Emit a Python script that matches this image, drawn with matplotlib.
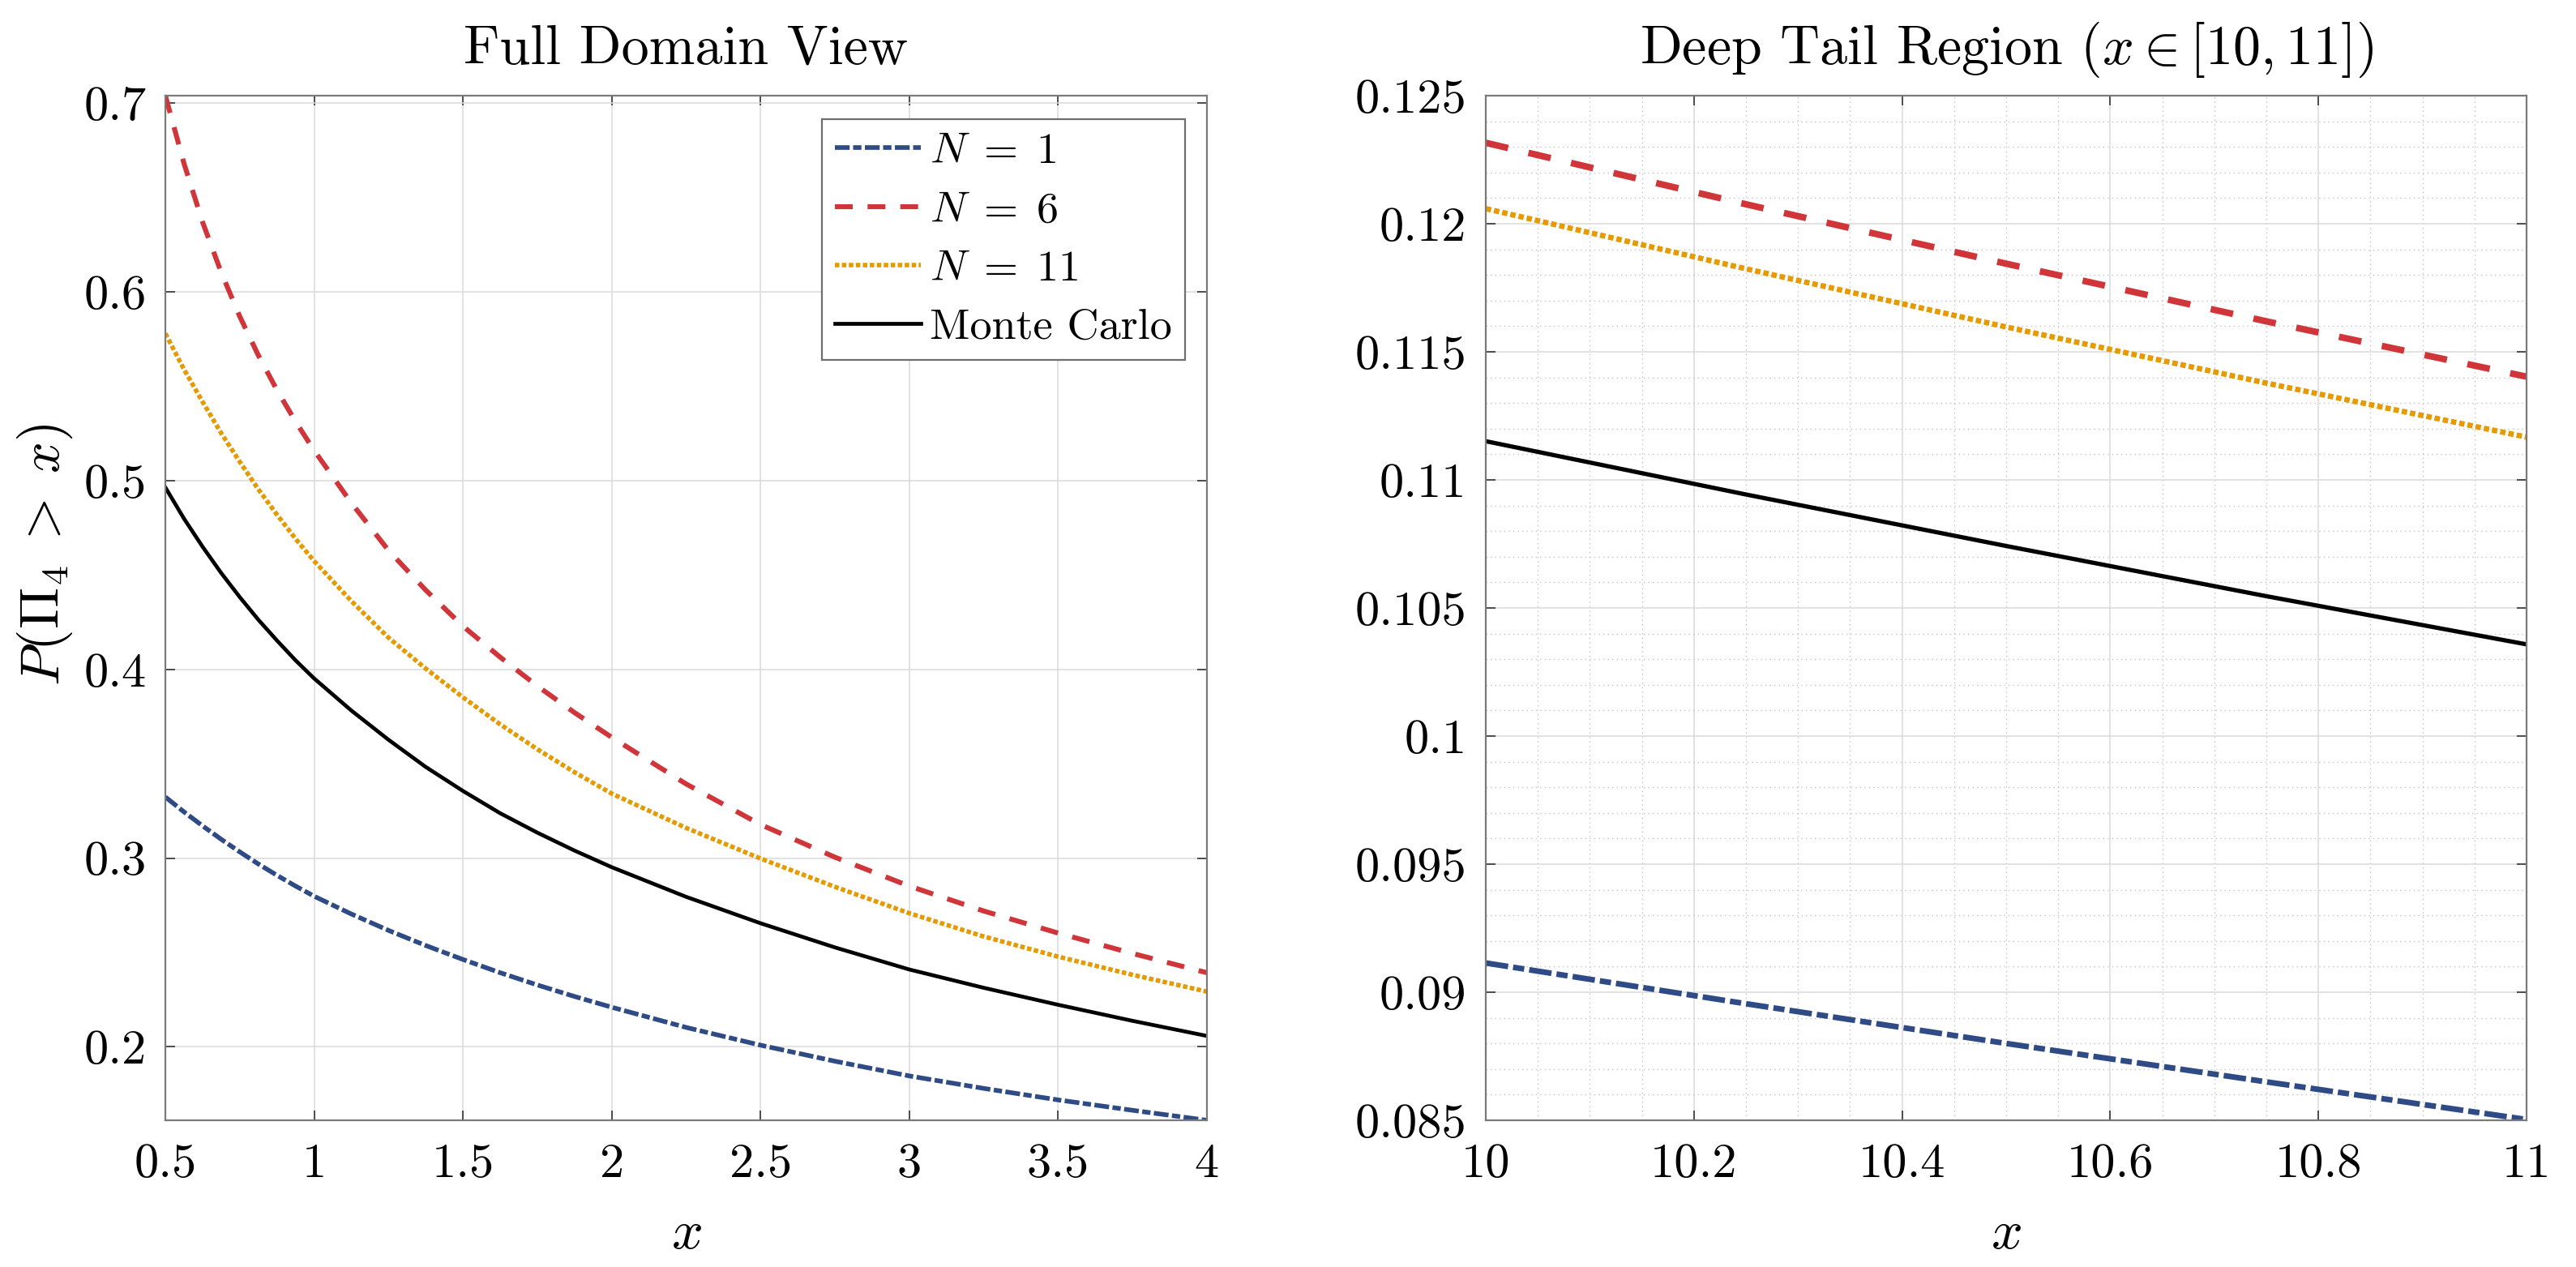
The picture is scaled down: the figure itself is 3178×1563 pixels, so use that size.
import matplotlib
matplotlib.use("Agg")
import matplotlib.pyplot as plt
from matplotlib.ticker import FixedLocator, FixedFormatter, MultipleLocator

plt.rcParams['font.family'] = 'serif'
plt.rcParams['font.serif'] = ['cmr10']
plt.rcParams['mathtext.fontset'] = 'cm'
plt.rcParams['axes.formatter.use_mathtext'] = True

# ---------------- data ----------------
x_full = [0.5, 0.5625, 0.625, 0.6875, 0.75, 0.8125, 0.875, 0.9375, 1.0, 1.125, 1.25, 1.375, 1.5,
          1.625, 1.75, 1.875, 2.0, 2.25, 2.5, 2.75, 3.0, 3.25, 3.5, 3.75, 4.0]
n1_full = [0.3324, 0.3245, 0.3171, 0.3100, 0.3033, 0.2969, 0.2909, 0.2852, 0.2798, 0.2704, 0.2617,
           0.2537, 0.2463, 0.2393, 0.2328, 0.2267, 0.2210, 0.2103, 0.2009, 0.1924, 0.1846, 0.1780,
           0.1719, 0.1664, 0.1611]
n6_full = [0.7040, 0.6681, 0.6370, 0.6104, 0.5870, 0.5664, 0.5480, 0.5313, 0.5160, 0.4882, 0.4630,
           0.4420, 0.4229, 0.4065, 0.3912, 0.3771, 0.3640, 0.3393, 0.3178, 0.3005, 0.2852, 0.2720,
           0.2603, 0.2495, 0.2393]
n11_full = [0.5780, 0.5590, 0.5418, 0.5252, 0.5100, 0.4954, 0.4820, 0.4692, 0.4574, 0.4362, 0.4168,
            0.4004, 0.3852, 0.3709, 0.3577, 0.3455, 0.3342, 0.3160, 0.2998, 0.2848, 0.2708, 0.2585,
            0.2478, 0.2382, 0.2293]
mc_full = [0.4964, 0.4799, 0.4650, 0.4511, 0.4383, 0.4263, 0.4153, 0.4048, 0.3952, 0.3782, 0.3627,
           0.3483, 0.3356, 0.3238, 0.3135, 0.3040, 0.2952, 0.2795, 0.2655, 0.2527, 0.2410, 0.2313,
           0.2223, 0.2138, 0.2058]

x_tail = [10.0, 10.25, 10.5, 10.75, 11.0]
n1_tail = [0.09114, 0.08955, 0.08800, 0.08650, 0.08503]
n6_tail = [0.12316, 0.12076, 0.11844, 0.11619, 0.11403]
n11_tail = [0.12059, 0.11824, 0.11597, 0.11378, 0.11167]
mc_tail = [0.11151, 0.10943, 0.10742, 0.10546, 0.10358]

labels = [r'$N\;=\;1$', r'$N\;=\;6$', r'$N\;=\;11$', 'Monte Carlo']

xt_full = [0.5, 1, 1.5, 2, 2.5, 3, 3.5, 4]
xt_full_lbl = ['0.5', '1', '1.5', '2', '2.5', '3', '3.5', '4']
yt_full = [0.2, 0.3, 0.4, 0.5, 0.6, 0.7]
yt_full_lbl = ['0.2', '0.3', '0.4', '0.5', '0.6', '0.7']
xt_tail = [10, 10.2, 10.4, 10.6, 10.8, 11]
xt_tail_lbl = ['10', '10.2', '10.4', '10.6', '10.8', '11']
yt_tail = [0.085, 0.09, 0.095, 0.1, 0.105, 0.11, 0.115, 0.12, 0.125]
yt_tail_lbl = ['0.085', '0.09', '0.095', '0.1', '0.105', '0.11', '0.115', '0.12', '0.125']

# ---------------- styles ----------------
C_BLUE = '#2F4B86'
C_RED = '#D0353A'
C_ORANGE = '#E69A00'
C_BLACK = '#000000'
SPINE = '#7a7a7a'
TICK_FS = 43.5
TITLE_FS = 49
LABEL_FS = 49
LEG_FS = 39

fig = plt.figure(figsize=(31.78, 15.63), dpi=100)
ax1 = fig.add_axes([0.0642, 0.1158, 0.4043, 0.8087])
ax2 = fig.add_axes([0.5768, 0.1158, 0.4040, 0.8087])


def style_axes(ax):
    for s in ax.spines.values():
        s.set_color(SPINE)
        s.set_linewidth(1.6)
    ax.tick_params(which='major', direction='in', length=8.5, width=1.2,
                   color='#333333', top=True, right=True,
                   labelsize=TICK_FS, pad=17)
    ax.tick_params(axis='x', which='major', pad=20)
    ax.tick_params(which='minor', length=0, top=True, right=True)
    ax.grid(True, which='major', color='#dadada', linewidth=1.1, linestyle='-')
    ax.set_axisbelow(True)


# ---- left panel ----
h1, = ax1.plot(x_full, n1_full, color=C_BLUE, lw=4.1, dashes=(3.2, 0.75, 1.8, 0.75))
h2, = ax1.plot(x_full, n6_full, color=C_RED, lw=4.4, dashes=(3.6, 3.0))
h3, = ax1.plot(x_full, n11_full, color=C_ORANGE, lw=4.0, dashes=(1.0, 0.55))
h4, = ax1.plot(x_full, mc_full, color=C_BLACK, lw=3.4, linestyle='-')
ax1.set_xlim(min(x_full), max(x_full))
ymin = min(min(n1_full), min(n6_full), min(n11_full), min(mc_full))
ymax = max(max(n1_full), max(n6_full), max(n11_full), max(mc_full))
ax1.set_ylim(ymin, ymax)
ax1.xaxis.set_major_locator(FixedLocator(xt_full))
ax1.xaxis.set_major_formatter(FixedFormatter(xt_full_lbl))
ax1.yaxis.set_major_locator(FixedLocator(yt_full))
ax1.yaxis.set_major_formatter(FixedFormatter(yt_full_lbl))
style_axes(ax1)
ax1.set_title('Full Domain View', fontsize=TITLE_FS, y=1.0245, va='baseline')
ax1.set_xlabel('$x$', fontsize=LABEL_FS)
ax1.xaxis.label.set_va('baseline')
ax1.xaxis.set_label_coords(0.5, -0.125)
ax1.set_ylabel(r'$P(\Pi_4\;>\;x)$', fontsize=LABEL_FS)
ax1.yaxis.label.set_va('center')
ax1.yaxis.set_label_coords(-0.116, 0.552)

leg = ax1.legend([h1, h2, h3, h4], labels, loc='upper right',
                 bbox_to_anchor=(0.979, 0.977), borderaxespad=0,
                 fontsize=LEG_FS, frameon=True, fancybox=False, framealpha=1,
                 edgecolor='#6e6e6e', handlelength=1.95, handletextpad=0.2,
                 labelspacing=0.45, borderpad=0.3)
leg.get_frame().set_linewidth(1.6)

# ---- right panel ----
ax2.plot(x_tail, n1_tail, color=C_BLUE, lw=5.0, dashes=(4.0, 0.9, 2.0, 0.9))
ax2.plot(x_tail, n6_tail, color=C_RED, lw=5.8, dashes=(3.5, 3.2))
ax2.plot(x_tail, n11_tail, color=C_ORANGE, lw=4.8, dashes=(1.0, 0.55))
ax2.plot(x_tail, mc_tail, color=C_BLACK, lw=3.8, linestyle='-')
ax2.set_xlim(min(x_tail), max(x_tail))
ax2.set_ylim(min(yt_tail), max(yt_tail))
ax2.xaxis.set_major_locator(FixedLocator(xt_tail))
ax2.xaxis.set_major_formatter(FixedFormatter(xt_tail_lbl))
ax2.yaxis.set_major_locator(FixedLocator(yt_tail))
ax2.yaxis.set_major_formatter(FixedFormatter(yt_tail_lbl))
ax2.xaxis.set_minor_locator(MultipleLocator(0.05))
ax2.yaxis.set_minor_locator(MultipleLocator(0.001))
style_axes(ax2)
ax2.grid(True, which='minor', color='#c4c4c4', linewidth=1.0, linestyle=(0, (1, 3)))
ax2.set_title(r'Deep Tail Region ($x \in [10,11]$)', fontsize=TITLE_FS, y=1.0245, va='baseline')
ax2.set_xlabel('$x$', fontsize=LABEL_FS)
ax2.xaxis.label.set_va('baseline')
ax2.xaxis.set_label_coords(0.5, -0.125)

fig.savefig('out.png', dpi=100)
